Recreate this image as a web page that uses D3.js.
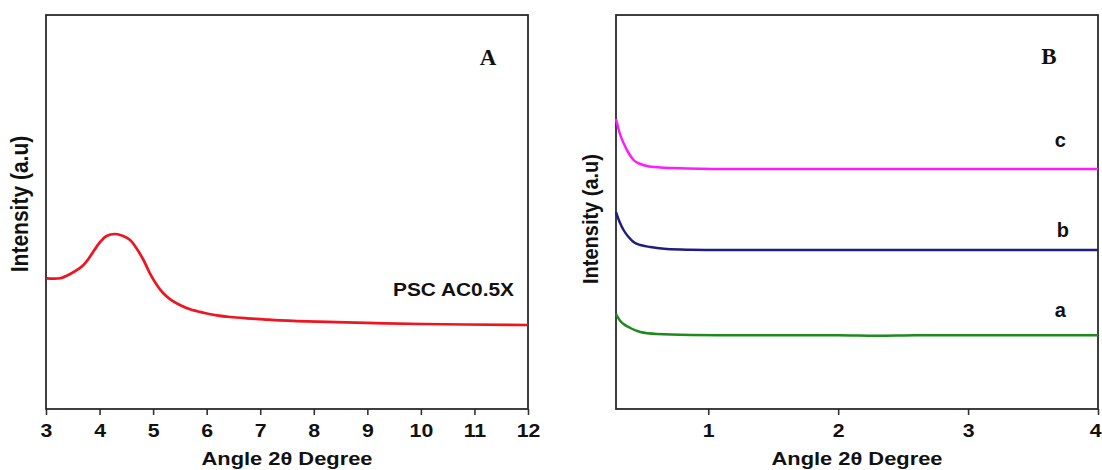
<!DOCTYPE html>
<html>
<head>
<meta charset="utf-8">
<script src="https://cdn.jsdelivr.net/npm/d3@7"></script>
<style>
  body { margin: 0; background: #fff; }
  svg { display: block; font-family: "Liberation Sans", Arial, sans-serif; font-weight: bold; }
  text { fill: #111; }
</style>
</head>
<body>
<svg id="chart" width="1102" height="470"></svg>
<script>
// panel A: PSC AC0.5X
const angleA = [3.01, 3.26, 3.45, 3.70, 4.01, 4.13, 4.29, 4.44, 4.57, 4.69, 4.82, 4.94, 5.07, 5.19, 5.32, 5.50, 5.69, 5.94, 6.19, 6.44, 6.75, 7.06, 7.37, 8.06, 10.03, 12]
const intensityA = [130.7, 130.7, 135, 144, 167, 173, 175, 173, 169, 160.7, 149, 135.7, 124, 115.7, 109.7, 104, 99.7, 96.3, 93.7, 92, 90.7, 89.7, 88.7, 87.3, 85, 84]
const ticksA = [3, 4, 5, 6, 7, 8, 9, 10, 11, 12]

// panel B: samples a, b, c
const angleBa = [0.29, 0.323, 0.348, 0.4, 0.477, 0.605, 0.862, 1.1, 2, 2.3, 2.6, 3, 4]
const intensityBa = [95, 88, 85, 81, 77, 75, 74, 73.8, 73.8, 73.3, 73.8, 73.8, 73.8]
const angleBb = [0.29, 0.318, 0.348, 0.387, 0.425, 0.477, 0.554, 0.682, 0.862, 1.1, 2, 3, 4]
const intensityBb = [197, 187, 179, 172, 167, 164, 162, 160, 159.3, 159, 159, 159, 159]
const angleBc = [0.29, 0.318, 0.348, 0.387, 0.425, 0.477, 0.528, 0.631, 0.731, 1.115, 2, 3, 4]
const intensityBc = [290, 276, 266, 256, 249, 245, 243, 241.5, 241, 240, 240, 240, 240]
const ticksB = [1, 2, 3, 4]
const seriesB = [
    {name: "a", angle: angleBa, values: intensityBa, color: "#1c8a1c", lx: 3.71, ly: 92},
    {name: "b", angle: angleBb, values: intensityBb, color: "#1d1d84", lx: 3.73, ly: 172},
    {name: "c", angle: angleBc, values: intensityBc, color: "#ff1aff", lx: 3.71, ly: 262}
]

const svg = d3.select("#chart")
let plotTop = 15, plotBottom = 409
let stretch = 1.12  // the source figure is a bit wide, text looks stretched

function panel(left, right, domain, ticks) {
    let x = d3.scaleLinear().domain(domain).range([left, right])
    let y = d3.scaleLinear().domain([0, plotBottom - plotTop]).range([plotBottom, plotTop])
    let g = svg.append("g")
    g.append("g")
        .attr("transform", `translate(0,${plotBottom})`)
        .call(d3.axisBottom(x).tickValues(ticks).tickFormat(d3.format("d")).tickSize(6).tickPadding(9).tickSizeOuter(0))
        .call(g => g.select(".domain").remove())
        .call(g => g.selectAll(".tick line").attr("stroke", "#333").attr("stroke-width", 1.6))
        .call(g => g.selectAll(".tick text").attr("font-size", 19).attr("font-family", "Liberation Sans, Arial")
            .attr("font-weight", "bold").attr("fill", "#111").attr("transform", `scale(${stretch},1)`))
        .call(g => g.selectAll(".tick text").filter(d => x(d) > 1090).attr("text-anchor", "end").attr("dx", (1101 - x(d3.max(ticks))) / stretch))
    g.append("rect")
        .attr("x", left).attr("y", plotTop)
        .attr("width", right - left).attr("height", plotBottom - plotTop)
        .attr("fill", "none").attr("stroke", "#2a2a2a").attr("stroke-width", 1.8)
    g.append("text")
        .attr("x", (left + right) / 2).attr("y", 465)
        .attr("text-anchor", "middle").attr("font-size", 19)
        .attr("textLength", 171).attr("lengthAdjust", "spacingAndGlyphs")
        .text("Angle 2θ Degree")
    return {x, y, g}
}

// A
let pa = panel(46, 528, [3, 12], ticksA)
let lineA = d3.line().x(d => pa.x(d[0])).y(d => pa.y(d[1])).curve(d3.curveCatmullRom.alpha(0.5))
pa.g.append("path")
    .datum(angleA.map((a, i) => [a, intensityA[i]]))
    .attr("d", lineA)
    .attr("fill", "none").attr("stroke", "#f0141e").attr("stroke-width", 2.7)
pa.g.append("text")
    .attr("transform", `translate(28,204) scale(${stretch},1) rotate(-90)`)
    .attr("text-anchor", "middle").attr("font-size", 21)
    .text("Intensity (a.u)")
pa.g.append("text").attr("x", 453.5).attr("y", 296).attr("text-anchor", "middle").attr("font-size", 18)
    .attr("textLength", 121).attr("lengthAdjust", "spacingAndGlyphs").text("PSC AC0.5X")
pa.g.append("text").attr("x", 488).attr("y", 65).attr("text-anchor", "middle")
    .attr("font-family", "Liberation Serif, Times New Roman, serif").attr("font-size", 23).text("A")

// B
let pb = panel(616, 1098, [0.29, 4], ticksB)
let lineB = d3.line().x(d => pb.x(d[0])).y(d => pb.y(d[1])).curve(d3.curveMonotoneX)
seriesB.forEach(s => {
    pb.g.append("path")
        .datum(s.angle.map((a, i) => [a, s.values[i]]))
        .attr("d", lineB)
        .attr("fill", "none").attr("stroke", s.color).attr("stroke-width", 2.5)
    pb.g.append("text")
        .attr("x", pb.x(s.lx)).attr("y", pb.y(s.ly))
        .attr("text-anchor", "middle").attr("font-size", 20)
        .text(s.name)
})
pb.g.append("text")
    .attr("transform", `translate(598,219) scale(${stretch},1) rotate(-90)`)
    .attr("text-anchor", "middle").attr("font-size", 20)
    .text("Intensity (a.u)")
pb.g.append("text").attr("x", 1049).attr("y", 64).attr("text-anchor", "middle")
    .attr("font-family", "Liberation Serif, Times New Roman, serif").attr("font-size", 23).text("B")
</script>
</body>
</html>
